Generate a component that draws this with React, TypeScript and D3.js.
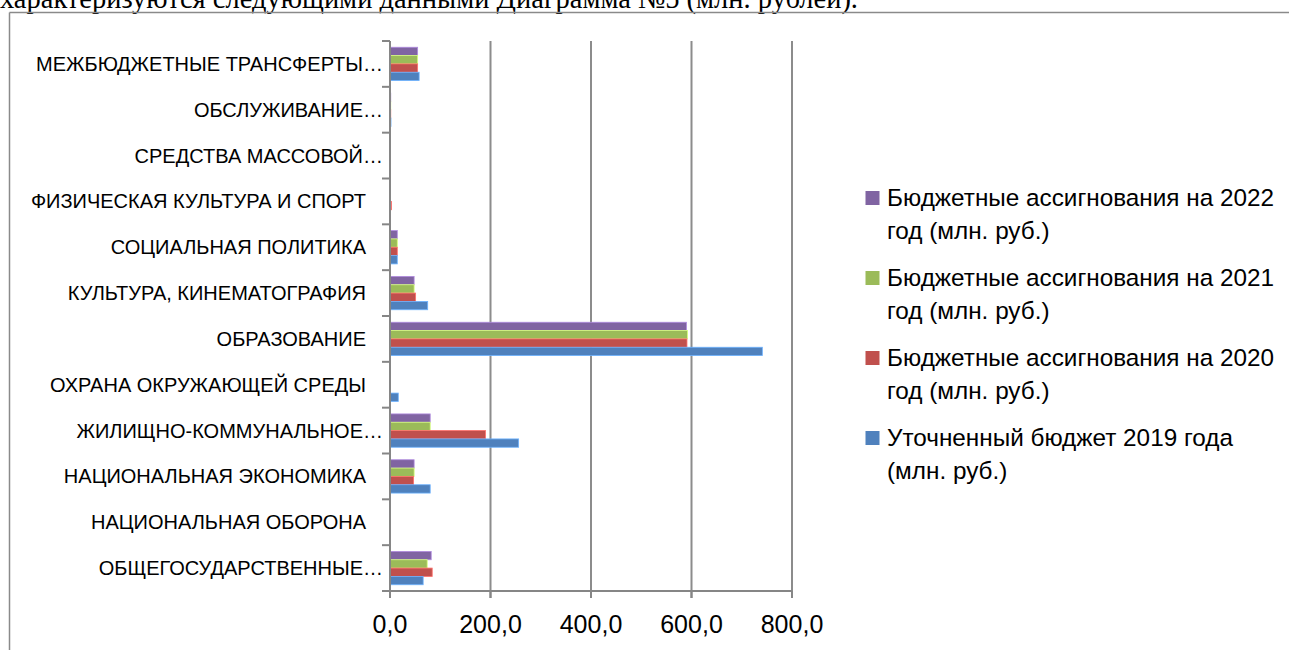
import React from "react";
import * as d3 from "d3";

// categories from bottom to top, as Excel draws them
const CATEGORIES = [
  "ОБЩЕГОСУДАРСТВЕННЫЕ…",
  "НАЦИОНАЛЬНАЯ ОБОРОНА",
  "НАЦИОНАЛЬНАЯ ЭКОНОМИКА",
  "ЖИЛИЩНО-КОММУНАЛЬНОЕ…",
  "ОХРАНА ОКРУЖАЮЩЕЙ СРЕДЫ",
  "ОБРАЗОВАНИЕ",
  "КУЛЬТУРА, КИНЕМАТОГРАФИЯ",
  "СОЦИАЛЬНАЯ ПОЛИТИКА",
  "ФИЗИЧЕСКАЯ КУЛЬТУРА И СПОРТ",
  "СРЕДСТВА МАССОВОЙ…",
  "ОБСЛУЖИВАНИЕ…",
  "МЕЖБЮДЖЕТНЫЕ ТРАНСФЕРТЫ…",
];

const VALUES_2019 = [66, 0, 80, 256, 16.5, 741, 75, 14.5, 0.5, 0, 2, 58];
const VALUES_2020 = [84, 0, 47, 190, 0, 591, 51, 14.5, 3, 0, 1.5, 55];
const VALUES_2021 = [74, 0, 48, 80, 0, 592, 48, 14.5, 0.5, 0, 1.5, 55];
const VALUES_2022 = [82, 0, 48, 80, 0, 590, 48, 14.5, 0.5, 0, 1.5, 55];

// legend / group order from top to bottom
const SERIES = [
  { key: "2022", line1: "Бюджетные ассигнования на 2022", line2: "год (млн. руб.)", color: "#8064A2", values: VALUES_2022 },
  { key: "2021", line1: "Бюджетные ассигнования на 2021", line2: "год (млн. руб.)", color: "#9BBB59", values: VALUES_2021 },
  { key: "2020", line1: "Бюджетные ассигнования на 2020", line2: "год (млн. руб.)", color: "#C0504D", values: VALUES_2020 },
  { key: "2019", line1: "Уточненный бюджет 2019 года", line2: "(млн. руб.)", color: "#4F81BD", values: VALUES_2019 },
];

const X_TICKS = [0, 200, 400, 600, 800];
const HEADING = "характеризуются следующими данными Диаграмма №5 (млн. рублей).";

const W = 1289;
const H = 650;
const FONT = "'Liberation Sans', Arial, sans-serif";

export default function App() {
  const x = d3.scaleLinear().domain([0, 800]).range([390, 792]);
  const y = d3.scaleBand<string>().domain(CATEGORIES).range([591, 41]).padding(0);
  const band = y.bandwidth();
  const gap = band * (1.5 / 5.5);
  const inner = d3
    .scaleBand<string>()
    .domain(SERIES.map((s) => s.key))
    .range([gap / 2, band - gap / 2])
    .padding(0);

  const fmt = (v: number) => v.toFixed(1).replace(".", ",");
  const boundaries = d3.range(CATEGORIES.length + 1).map((i) => 591 - i * band);

  return (
    <div style={{ position: "absolute", left: 0, top: 0 }}>
      <svg width={W} height={H} style={{ display: "block", background: "#fff" }}>
        {/* page text cut at the top */}
        <text
          x={0}
          y={7.5}
          fontFamily="'Liberation Serif', 'Times New Roman', serif"
          fontSize={29}
          textLength={858}
          lengthAdjust="spacingAndGlyphs"
          fill="#000"
        >
          {HEADING}
        </text>

        {/* chart frame */}
        <line x1={9.5} x2={W} y1={12.5} y2={12.5} stroke="#8a8a8a" strokeWidth={1.5} />
        <line x1={9.5} x2={9.5} y1={12.5} y2={H} stroke="#8a8a8a" strokeWidth={1.5} />

        {/* gridlines */}
        {X_TICKS.slice(1).map((t) => (
          <line key={t} x1={x(t)} x2={x(t)} y1={41} y2={598} stroke="#8c8c8c" strokeWidth={2} />
        ))}

        {/* bars */}
        {CATEGORIES.map((c, ci) => (
          <g key={c} transform={`translate(0,${y(c)})`}>
            {SERIES.map((s) => {
              const v = s.values[ci];
              if (v <= 0) return null;
              return (
                <rect
                  key={s.key}
                  x={x(0)}
                  y={inner(s.key)}
                  width={x(v) - x(0)}
                  height={inner.bandwidth()}
                  fill={s.color}
                  stroke={d3.color(s.color)!.brighter(0.9).formatHex()}
                  strokeWidth={0.8}
                />
              );
            })}
          </g>
        ))}

        {/* value axis */}
        <line x1={382} x2={x(800)} y1={591} y2={591} stroke="#868686" strokeWidth={2} />
        {X_TICKS.map((t) => (
          <g key={t}>
            <line x1={x(t)} x2={x(t)} y1={591} y2={598} stroke="#868686" strokeWidth={2} />
            <text
              x={x(t)}
              y={633}
              textAnchor="middle"
              fontFamily={FONT}
              fontSize={25}
              fill="#000"
            >
              {fmt(t)}
            </text>
          </g>
        ))}

        {/* category axis */}
        <line x1={x(0)} x2={x(0)} y1={41} y2={598} stroke="#868686" strokeWidth={2} />
        {boundaries.map((b, i) => (
          <line key={i} x1={382} x2={x(0)} y1={b} y2={b} stroke="#868686" strokeWidth={2} />
        ))}
        {CATEGORIES.map((c) => (
          <text
            key={c}
            x={c.endsWith("…") ? 383 : 366}
            y={(y(c) ?? 0) + band / 2}
            dy="0.35em"
            textAnchor="end"
            fontFamily={FONT}
            fontSize={20}
            fill="#000"
          >
            {c}
          </text>
        ))}

        {/* legend */}
        {SERIES.map((s, i) => (
          <g key={s.key} transform={`translate(0,${i * 80})`}>
            <rect x={865.5} y={191} width={14} height={14} fill={s.color} />
            <text x={887} y={206} fontFamily={FONT} fontSize={24.3} fill="#000">
              {s.line1}
            </text>
            <text x={887} y={239} fontFamily={FONT} fontSize={24.3} fill="#000">
              {s.line2}
            </text>
          </g>
        ))}
      </svg>
    </div>
  );
}
